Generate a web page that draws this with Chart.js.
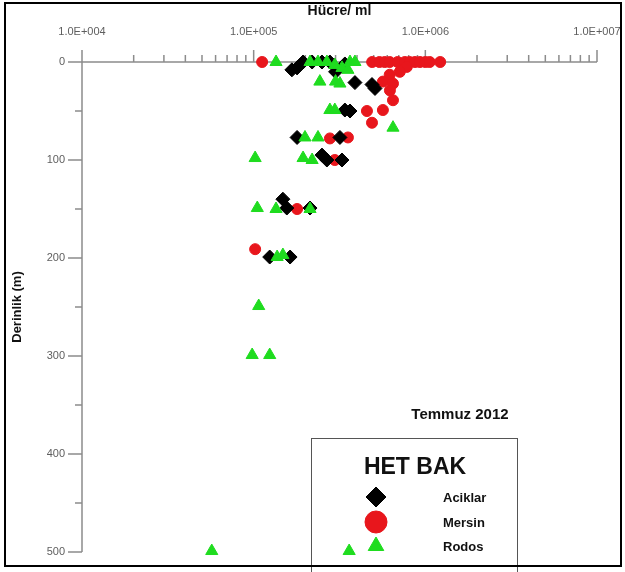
<!DOCTYPE html>
<html>
<head>
<meta charset="utf-8">
<script src="https://cdn.jsdelivr.net/npm/chart.js@4.4.0/dist/chart.umd.min.js"></script>
<style>
  html, body { margin: 0; padding: 0; background: #fff; }
  #wrap { position: relative; width: 625px; height: 572px; overflow: hidden; }
  #frame { position: absolute; left: 4px; top: 2px; width: 614px; height: 561px; border: 2px solid #000; pointer-events: none; }
</style>
</head>
<body>
<div id="wrap">
  <canvas id="c" width="625" height="572"></canvas>
  <div id="frame"></div>
</div>
<script>
// ---- data (cells/ml vs depth m) ----
const aciklarCells = [1.67e5, 1.79e5, 1.94e5, 2.19e5, 2.50e5, 2.78e5, 3.00e5, 3.40e5, 3.89e5, 4.89e5, 5.09e5, 3.40e5, 3.64e5, 1.79e5, 3.18e5, 2.50e5, 2.67e5, 3.27e5, 1.48e5, 1.56e5, 2.13e5, 1.24e5, 1.63e5];
const aciklarDepth = [8, 6, 0, 0, 0, 0, 10, 2, 21, 23, 27, 49, 50, 77, 77, 95, 100, 100, 140, 149, 149, 199, 199];

const mersinCells = [1.12e5, 4.9e5, 5.4e5, 5.8e5, 6.2e5, 6.9e5, 7.6e5, 8.1e5, 8.7e5, 9.3e5, 1.0e6, 1.06e6, 1.22e6, 7.8e5, 7.1e5, 6.2e5, 5.66e5, 6.48e5, 6.22e5, 6.48e5, 5.66e5, 4.57e5, 4.89e5, 2.78e5, 3.54e5, 2.97e5, 1.79e5, 1.02e5];
const mersinDepth = [0, 0, 0, 0, 0, 0, 0, 0, 0, 0, 0, 0, 0, 5, 10, 13, 20, 22, 29, 39, 49, 50, 62, 78, 77, 100, 150, 191];

const rodosCells = [1.35e5, 2.13e5, 2.37e5, 2.67e5, 2.97e5, 3.27e5, 3.54e5, 3.64e5, 3.89e5, 2.43e5, 3.00e5, 3.18e5, 2.78e5, 2.97e5, 6.48e5, 1.99e5, 2.37e5, 1.02e5, 1.94e5, 2.19e5, 1.05e5, 1.35e5, 2.13e5, 1.37e5, 1.48e5, 1.07e5, 9.8e4, 1.24e5, 5.7e4, 3.6e5];
const rodosDepth = [0, 0, 0, 0, 3, 6, 8, 0, 0, 20, 20, 22, 49, 49, 67, 77, 77, 98, 98, 100, 149, 150, 150, 199, 197, 249, 299, 299, 499, 499];

const seriesNames = ['Aciklar', 'Mersin', 'Rodos'];
const xMajorTicks = [1e4, 1e5, 1e6, 1e7];
const yTickValues = [0, 50, 100, 150, 200, 250, 300, 350, 400, 450, 500];
const legendTitle = 'HET BAK';
const noteText = 'Temmuz 2012';
const xTitle = 'Hücre/ ml';
const yTitle = 'Derinlik (m)';

const pts = (xs, ys) => xs.map((x, i) => ({ x: x, y: ys[i] }));

const RED = '#e8161c';
const GREEN = '#1fdc1f';
const AXIS = '#8c8c8c';
const LABEL = '#5e5e5e';
const FONT = '"Liberation Sans", Arial, sans-serif';

function fmtExp(v) {
  const e = Math.round(Math.log10(v));
  return '1.0E+' + String(e).padStart(3, '0');
}

const axesPlugin = {
  id: 'axesPlugin',
  beforeDatasetsDraw(chart) {
    const ctx = chart.ctx;
    const xs = chart.scales.x, ys = chart.scales.y;
    const top = ys.getPixelForValue(0), bottom = ys.getPixelForValue(500);
    const left = xs.getPixelForValue(1e4), right = xs.getPixelForValue(1e7);
    ctx.save();
    ctx.strokeStyle = AXIS;
    ctx.lineWidth = 1.5;
    ctx.beginPath();
    ctx.moveTo(left, top); ctx.lineTo(right, top);
    ctx.moveTo(left, top); ctx.lineTo(left, bottom);
    for (let e = 4; e <= 7; e++) {
      for (let m = 1; m <= 9; m++) {
        const v = m * Math.pow(10, e);
        if (v > 1e7) break;
        const px = xs.getPixelForValue(v);
        const len = (m === 1) ? 12 : 7;
        ctx.moveTo(px, top); ctx.lineTo(px, top - len);
      }
    }
    yTickValues.forEach(v => {
      const py = ys.getPixelForValue(v);
      const len = (v % 100 === 0) ? 14 : 7;
      ctx.moveTo(left, py); ctx.lineTo(left - len, py);
    });
    ctx.stroke();
    ctx.restore();
  },
  afterDraw(chart) {
    const ctx = chart.ctx;
    ctx.save();
    ctx.fillStyle = '#111';
    ctx.font = 'bold 15px ' + FONT;
    ctx.textAlign = 'center';
    ctx.textBaseline = 'middle';
    ctx.fillText(noteText, 460, 415);
    ctx.fillStyle = '#fff';
    ctx.fillRect(311, 438, 206, 134);
    ctx.restore();
  }
};

const legendPlugin = {
  id: 'legendPlugin',
  afterDraw(chart) {
    const ctx = chart.ctx;
    ctx.save();
    ctx.strokeStyle = '#555';
    ctx.lineWidth = 1;
    ctx.strokeRect(311.5, 438.5, 206, 134);
    ctx.fillStyle = '#111';
    ctx.font = 'bold 23px ' + FONT;
    ctx.textAlign = 'center';
    ctx.textBaseline = 'middle';
    ctx.fillText(legendTitle, 415, 468);
    const rows = [497, 522, 546];
    const ds = chart.data.datasets;
    ctx.font = 'bold 13px ' + FONT;
    ctx.textAlign = 'left';
    ds.forEach((d, i) => {
      const style = d.pointStyle;
      const r = i === 0 ? 10 : (i === 1 ? 11 : 9);
      ctx.fillStyle = d.backgroundColor;
      ctx.strokeStyle = d.borderColor;
      ctx.lineWidth = 1;
      Chart.helpers.drawPoint(ctx, { pointStyle: style, rotation: 0, radius: r, borderWidth: 1 }, 376, rows[i]);
      ctx.fillStyle = '#111';
      ctx.fillText(d.label, 443, rows[i] + 1);
    });
    const meta = chart.getDatasetMeta(2);
    meta.data.forEach((el, idx) => {
      if (rodosDepth[idx] >= 450 && el.x > 311) {
        ctx.fillStyle = GREEN; ctx.strokeStyle = GREEN;
        Chart.helpers.drawPoint(ctx, { pointStyle: 'triangle', rotation: 0, radius: 7, borderWidth: 1 }, el.x, el.y);
      }
    });
    ctx.restore();
  }
};

new Chart(document.getElementById('c'), {
  type: 'scatter',
  data: {
    datasets: [
      { label: seriesNames[0], data: pts(aciklarCells, aciklarDepth), pointStyle: 'rectRot', pointRadius: 7,
        backgroundColor: '#000', borderColor: '#000', borderWidth: 1, order: 1, clip: false },
      { label: seriesNames[1], data: pts(mersinCells, mersinDepth), pointStyle: 'circle', pointRadius: 5.5,
        backgroundColor: RED, borderColor: RED, borderWidth: 1, order: 2, clip: false },
      { label: seriesNames[2], data: pts(rodosCells, rodosDepth), pointStyle: 'triangle', pointRadius: 7,
        backgroundColor: GREEN, borderColor: GREEN, borderWidth: 1, order: 0, clip: false }
    ]
  },
  options: {
    responsive: false,
    animation: false,
    layout: { padding: { left: 8, top: 3, right: 28, bottom: 20 } },
    plugins: { legend: { display: false }, tooltip: { enabled: false } },
    scales: {
      x: {
        type: 'logarithmic', position: 'top', min: 1e4, max: 1e7,
        afterFit(s) { s.height = 59; s.paddingLeft = 0; s.paddingRight = 0; },
        grid: { display: true, drawOnChartArea: false, drawTicks: false, color: 'rgba(0,0,0,0)' },
        border: { display: false },
        title: { display: true, text: xTitle, color: '#111', font: { family: FONT, size: 14, weight: 'bold' }, padding: { top: 0, bottom: 0 } },
        ticks: {
          autoSkip: false, maxRotation: 0, padding: 23, color: LABEL,
          font: { family: FONT, size: 11 },
          callback(v) { return xMajorTicks.some(m => Math.abs(v - m) / m < 1e-6) ? fmtExp(v) : ''; }
        },
        afterBuildTicks(s) { s.ticks = xMajorTicks.map(v => ({ value: v })); }
      },
      y: {
        type: 'linear', reverse: true, min: 0, max: 500,
        afterFit(s) { s.width = 74; s.paddingTop = 0; s.paddingBottom = 0; },
        grid: { display: true, drawOnChartArea: false, drawTicks: false, color: 'rgba(0,0,0,0)' },
        border: { display: false },
        title: { display: true, text: yTitle, color: '#111', font: { family: FONT, size: 13, weight: 'bold' }, padding: { top: 2, bottom: 0 } },
        ticks: { stepSize: 100, padding: 17, color: LABEL, font: { family: FONT, size: 11 } }
      }
    }
  },
  plugins: [axesPlugin, legendPlugin]
});
</script>
</body>
</html>
